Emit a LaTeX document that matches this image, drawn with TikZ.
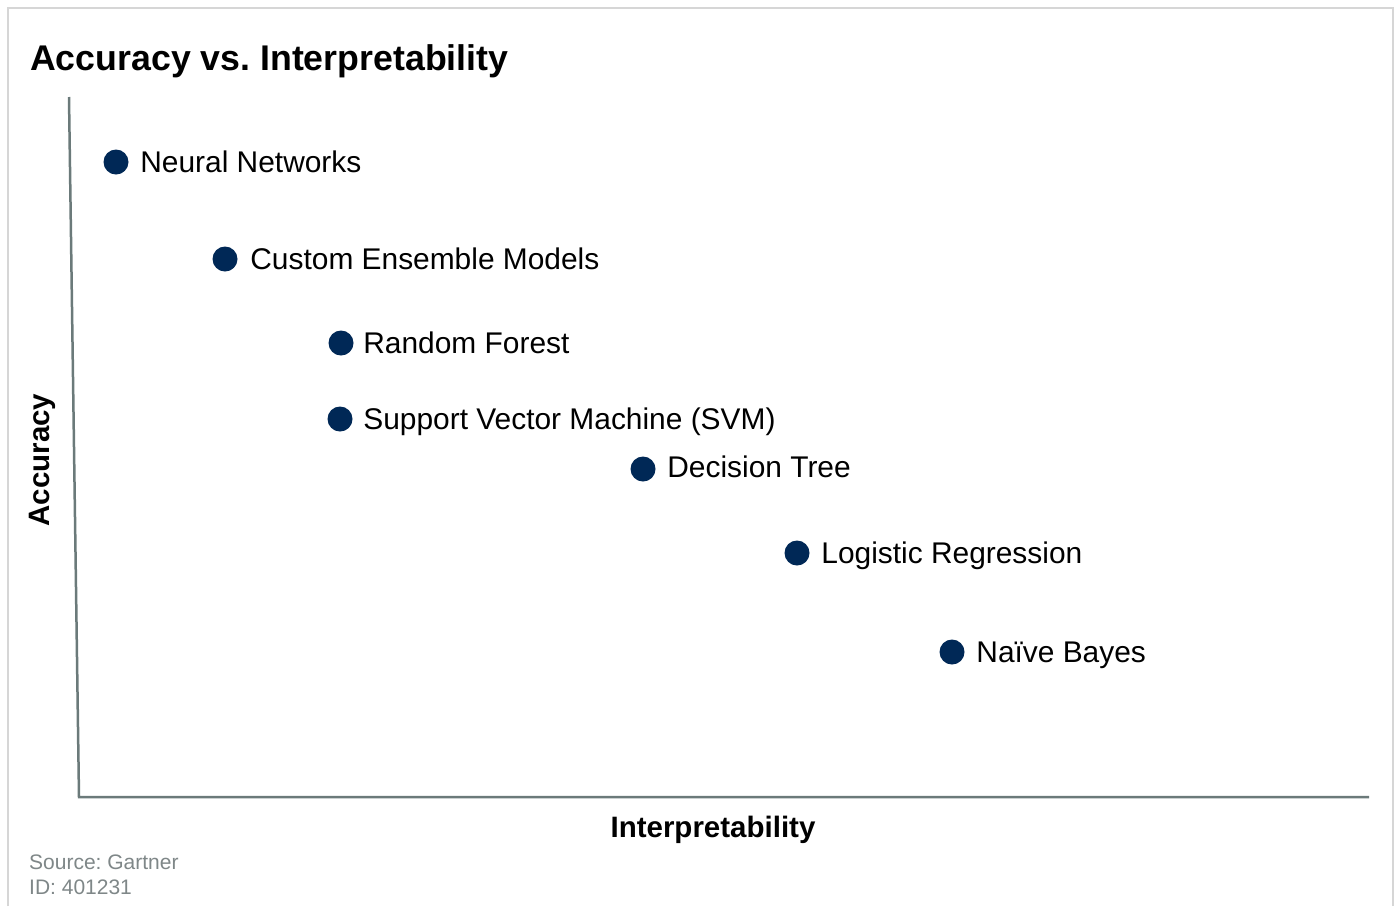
\documentclass[tikz,border=0pt]{standalone}
\usepackage{fontspec}
\setmainfont{Liberation Sans}
\usetikzlibrary{positioning}
\frenchspacing
\definecolor{navy}{HTML}{002856}
\definecolor{axisgray}{HTML}{6B7A7A}
\definecolor{framegray}{HTML}{D6D6D6}
\definecolor{notegray}{HTML}{7F8788}
\tikzset{
  dot/.style={circle,fill=navy,inner sep=0pt,minimum size=25pt},
  model/.style={anchor=base west,inner sep=0pt,font=\fontsize{29.9}{34}\selectfont},
  axislabel/.style={anchor=base,inner sep=0pt,font=\bfseries\fontsize{29.5}{34}\selectfont},
  note/.style={anchor=base west,inner sep=0pt,text=notegray,font=\fontsize{21}{25}\selectfont}
}
\begin{document}
\begin{tikzpicture}[x=1pt,y=-1pt]
    \useasboundingbox[fill=white] (0,0) rectangle (1396,906);
    \draw[framegray,line width=1.5pt] (8,906) -- (8,8) -- (1393,8) -- (1393,906);
    \node[anchor=base west,inner sep=0pt,font=\bfseries\fontsize{35.7}{40}\selectfont] (title) at (30,70) {Accuracy vs. Interpretability};
    \coordinate (ytop) at (69,97);
    \coordinate (origin) at (79,797);
    \coordinate (xend) at (1369,797);
    \draw[axisgray,line width=2.5pt] (ytop) -- (origin) -- (xend);
    \node[axislabel,rotate=90] (ylabel) at (49,460) {Accuracy};
    \node[axislabel] (xlabel) at (713,837) {Interpretability};
    \node[dot] (nn) at (116,162) {};
    \node[dot] (cem) at (225,259) {};
    \node[dot] (rf) at (341,343) {};
    \node[dot] (svm) at (340,419) {};
    \node[dot] (dt) at (643,469) {};
    \node[dot] (lr) at (797,553) {};
    \node[dot] (nb) at (952,652) {};
    \node[model] (nn-text) at ([xshift=11.5pt,yshift=-10.5pt]nn.east) {Neural Networks};
    \node[model] (cem-text) at ([xshift=12.5pt,yshift=-10.5pt]cem.east) {Custom Ensemble Models};
    \node[model] (rf-text) at ([xshift=9.5pt,yshift=-10.5pt]rf.east) {Random Forest};
    \node[model] (svm-text) at ([xshift=10.5pt,yshift=-10.5pt]svm.east) {Support Vector Machine (SVM)};
    \node[model] (dt-text) at ([xshift=11.5pt,yshift=-8pt]dt.east) {Decision Tree};
    \node[model] (lr-text) at ([xshift=11.5pt,yshift=-10pt]lr.east) {Logistic Regression};
    \node[model] (nb-text) at ([xshift=11.5pt,yshift=-10pt]nb.east) {Naïve Bayes};
    \node[note] (source) at (29,869) {Source: Gartner};
    \node[note] (docid) at (29,894) {ID: 401231};
\end{tikzpicture}
\end{document}
